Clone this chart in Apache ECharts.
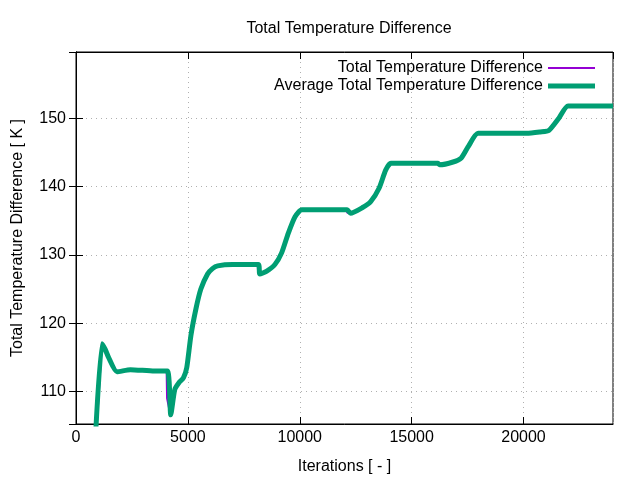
<!DOCTYPE html>
<html>
<head>
<meta charset="utf-8">
<script src="https://cdn.jsdelivr.net/npm/echarts@6/dist/echarts.min.js"></script>
<style>
  html, body { margin: 0; padding: 0; background: #fff; }
</style>
</head>
<body>
<div id="main" style="width:640px; height:480px"></div>
<script>
  // iterations / values
  var avgIter = [850, 1160, 1300, 1455, 1830, 2430, 3500, 4085, 4235, 4415, 4600, 4800, 4950,
    5135, 5360, 5580, 5880, 6100, 6330, 7000, 8150, 8215, 8510, 8890, 9190, 9490, 9790, 10090,
    12120, 12270, 12790, 13170, 13550, 13840, 14070, 16170, 16250, 16850, 17220, 17520, 17970,
    20150, 20750, 21130, 21580, 21990, 24000];
  var avgTemp = [102, 117.0, 116.2, 115.0, 112.9, 113.2, 113.0, 113.0, 106.6, 110.3, 111.3, 112.0, 113.5,
    118.2, 122.1, 125.0, 127.2, 128.0, 128.4, 128.6, 128.6, 127.2, 127.6, 128.6, 130.3, 133.2, 135.6, 136.6,
    136.6, 136.1, 136.9, 137.8, 139.8, 142.4, 143.4, 143.4, 143.2, 143.6, 144.2, 145.8, 147.8,
    147.8, 148.0, 148.2, 150.0, 151.8, 151.8];

  var rawIter = [850, 1160, 1300, 1455, 1830, 2430, 3500, 4050, 4070, 4235, 4415, 4600, 4800, 4950,
    5135, 5360, 5580, 5880, 6100, 6330, 7000, 8120, 8140, 8215, 8510, 8890, 9190, 9490, 9790, 10090,
    12100, 12120, 12270, 12790, 13170, 13550, 13840, 14070, 16150, 16170, 16850, 17220, 17520, 17970,
    20150, 20750, 21130, 21580, 21990, 24000];
  var rawTemp = [101, 117.2, 116.3, 115.0, 112.9, 113.2, 113.0, 113.0, 109.0, 106.3, 110.3, 111.3, 112.0, 113.5,
    118.2, 122.1, 125.0, 127.2, 128.0, 128.4, 128.6, 128.6, 127.4, 127.1, 127.6, 128.6, 130.3, 133.2, 135.6, 136.7,
    136.7, 136.2, 136.0, 136.9, 137.8, 139.8, 142.4, 143.5, 143.5, 143.2, 143.6, 144.2, 145.8, 147.9,
    147.9, 148.0, 148.2, 150.0, 151.9, 151.9];

  var xTicks = [0, 5000, 10000, 15000, 20000];

  function pairs(xs, ys) {
    var out = [];
    for (var i = 0; i < xs.length; i++) out.push([xs[i], ys[i]]);
    return out;
  }

  var font = "Liberation Sans";
  var fs = 16;
  var gridLine = { show: true, lineStyle: { color: "#b0b0b0", type: [1, 4], width: 1 } };

  var myChart = echarts.init(document.getElementById("main"), null, { renderer: "canvas" });
  var option = {
    animation: false,
    backgroundColor: "#fff",
    textStyle: { fontFamily: font },
    title: {
      text: "Total Temperature Difference",
      left: 344, top: 16, textAlign: "center",
      textStyle: { fontFamily: font, fontSize: fs, fontWeight: "normal", color: "#000" }
    },
    legend: [
      {
        data: ["Total Temperature Difference"],
        right: 40, top: 55, align: "right", icon: "rect",
        itemWidth: 47, itemHeight: 2,
        textStyle: { fontFamily: font, fontSize: fs, color: "#000" }
      },
      {
        data: ["Average Total Temperature Difference"],
        right: 40, top: 73, align: "right", icon: "rect",
        itemWidth: 47, itemHeight: 5,
        textStyle: { fontFamily: font, fontSize: fs, color: "#000" }
      }
    ],
    grid: { left: 76, right: 27, top: 52, bottom: 54, show: true, borderColor: "#000", borderWidth: 1 },
    xAxis: [
      {
        type: "value", min: 0, max: 24000, interval: 5000,
        name: "Iterations [ - ]", nameLocation: "middle", nameGap: 35,
        nameTextStyle: { fontFamily: font, fontSize: fs, color: "#000" },
        axisLine: { show: true, lineStyle: { color: "#000" } },
        axisTick: { inside: true, length: 7, lineStyle: { color: "#000" } },
        axisLabel: { fontFamily: font, fontSize: fs, color: "#000", margin: 6, showMaxLabel: false,
          formatter: function (v) { return xTicks.indexOf(v) >= 0 ? String(v) : ""; } },
        splitLine: gridLine
      },
      {
        type: "value", min: 0, max: 24000, interval: 5000, position: "top",
        axisLine: { show: true, lineStyle: { color: "#000" } },
        axisTick: { inside: true, length: 7, lineStyle: { color: "#000" } },
        axisLabel: { show: false }, splitLine: { show: false }
      }
    ],
    yAxis: [
      {
        type: "value", min: 105.25, max: 159.7, splitNumber: 5,
        name: "Total Temperature Difference [ K ]", nameLocation: "middle", nameGap: 50,
        nameTextStyle: { fontFamily: font, fontSize: fs, color: "#000" },
        axisLine: { show: true, lineStyle: { color: "#000" } },
        axisTick: { inside: true, length: 7, lineStyle: { color: "#000" } },
        axisLabel: { fontFamily: font, fontSize: fs, color: "#000", margin: 10,
          showMinLabel: false, showMaxLabel: false },
        splitLine: gridLine
      },
      {
        type: "value", min: 105.25, max: 159.7, splitNumber: 5, position: "right",
        axisLine: { show: true, lineStyle: { color: "#000" } },
        axisTick: { inside: true, length: 7, lineStyle: { color: "#000" } },
        axisLabel: { show: false }, splitLine: { show: false }
      }
    ],
    series: [
      {
        name: "Total Temperature Difference",
        type: "line", xAxisIndex: 0, yAxisIndex: 0,
        data: pairs(rawIter, rawTemp),
        showSymbol: false, clip: true,
        color: "#9400d3",
        lineStyle: { width: 2, color: "#9400d3" }
      },
      {
        name: "Average Total Temperature Difference",
        type: "line", xAxisIndex: 0, yAxisIndex: 0,
        data: pairs(avgIter, avgTemp),
        showSymbol: false, clip: true, smooth: 0.2,
        color: "#009e73",
        lineStyle: { width: 5, color: "#009e73" }
      }
    ]
  };
  myChart.setOption(option);
</script>
</body>
</html>
